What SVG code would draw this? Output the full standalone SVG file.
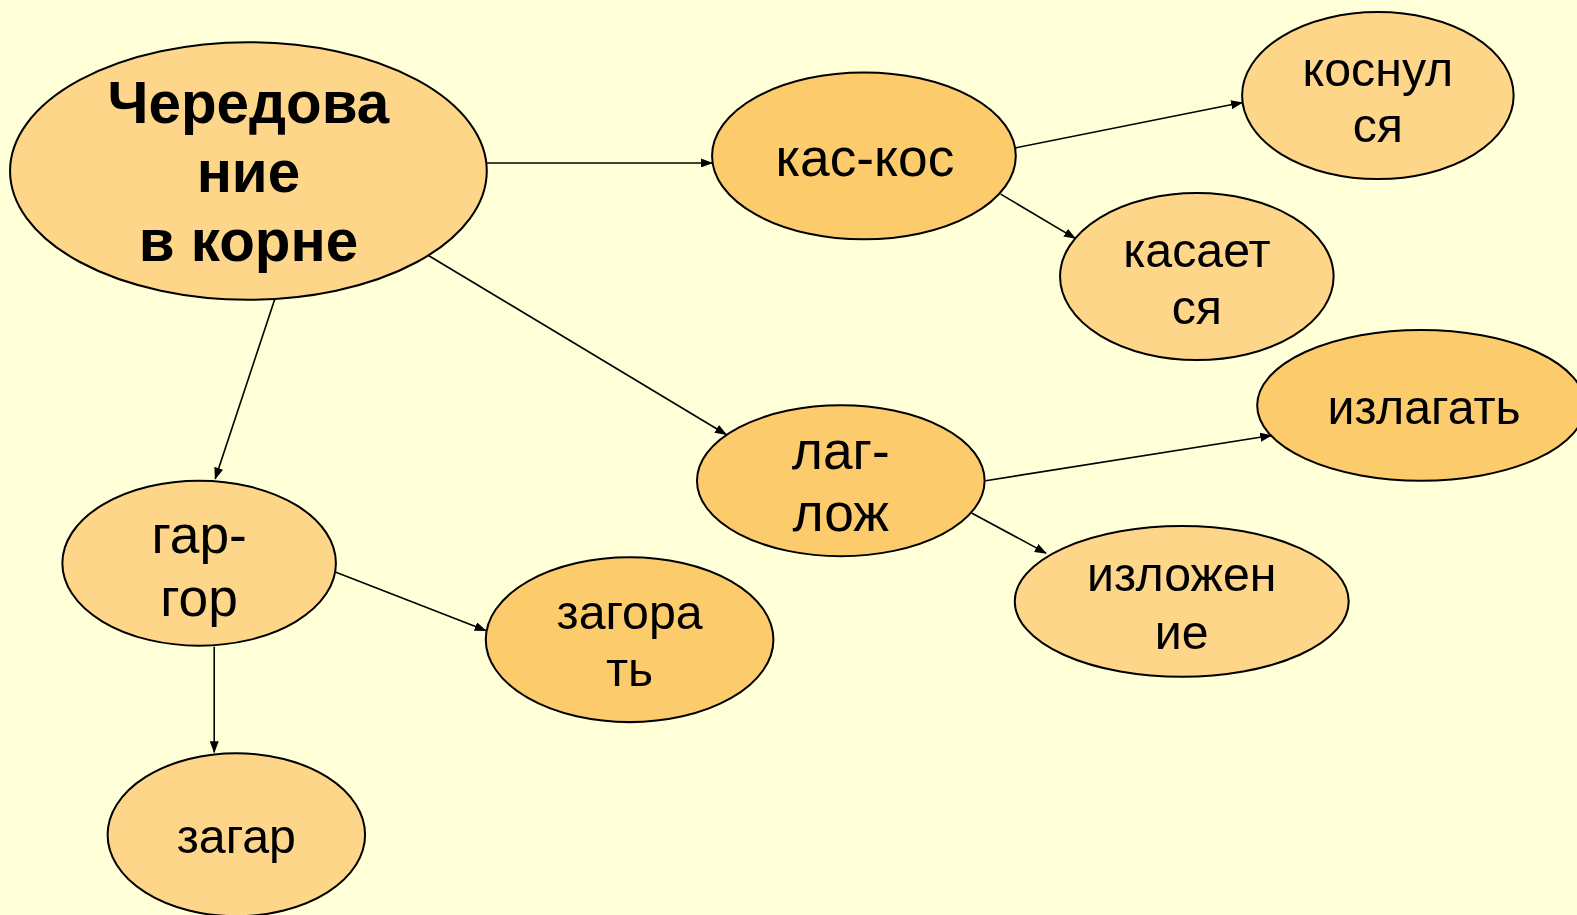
<svg xmlns="http://www.w3.org/2000/svg" width="1577" height="915" viewBox="0 0 1577 915">
<defs>
<style>
.n{stroke:#000;stroke-width:2}
.l{fill:#FDD68A}
.d{fill:#FCCB6C}
.t{font-family:"Liberation Sans",Arial,sans-serif;font-size:48px;fill:#000;text-anchor:middle}
.r{font-family:"Liberation Sans",Arial,sans-serif;font-size:53px;fill:#000;text-anchor:middle}
.b{font-family:"Liberation Sans",Arial,sans-serif;font-size:58px;font-weight:bold;fill:#000;text-anchor:middle}
.c{stroke:#000;stroke-width:1.6;fill:none;marker-end:url(#a)}
</style>
<marker id="a" markerWidth="12" markerHeight="9" refX="11" refY="4.5" orient="auto" markerUnits="userSpaceOnUse">
<path d="M0,0 L12,4.5 L0,9 Z" fill="#000"/>
</marker>
</defs>
<rect width="1577" height="915" fill="#FFFFD8"/>
<g transform="scale(1.00574)">
<g id="connectors">
<line class="c" x1="484" y1="162" x2="708" y2="162"/>
<line class="c" x1="1010" y1="147" x2="1235" y2="102"/>
<line class="c" x1="995" y1="193" x2="1069" y2="237"/>
<line class="c" x1="426" y1="254" x2="722" y2="432"/>
<line class="c" x1="273" y1="298" x2="214" y2="476"/>
<line class="c" x1="980" y1="478" x2="1264" y2="433"/>
<line class="c" x1="966" y1="510" x2="1040" y2="550"/>
<line class="c" x1="334" y1="569" x2="483" y2="627"/>
<line class="c" x1="213" y1="643" x2="213" y2="748"/>
</g>
<g id="main">
<ellipse class="n l" cx="247" cy="170" rx="237" ry="128"/>
<text class="b" x="247" y="122">Чередова</text>
<text class="b" x="247" y="191">ние</text>
<text class="b" x="247" y="260">в корне</text>
</g>
<g id="kaskos">
<ellipse class="n d" cx="859" cy="155" rx="151" ry="83"/>
<text class="r" x="860" y="175">кас-кос</text>
</g>
<g id="kosnulsya">
<ellipse class="n l" cx="1370" cy="95" rx="135" ry="83"/>
<text class="t" x="1370" y="86">коснул</text>
<text class="t" x="1370" y="141">ся</text>
</g>
<g id="kasaetsya">
<ellipse class="n l" cx="1190" cy="275" rx="136" ry="83"/>
<text class="t" x="1190" y="265">касает</text>
<text class="t" x="1190" y="322">ся</text>
</g>
<g id="izlagat">
<ellipse class="n d" cx="1413" cy="403" rx="163" ry="75"/>
<text class="t" x="1416" y="422">излагать</text>
</g>
<g id="laglozh">
<ellipse class="n d" cx="836" cy="478" rx="143" ry="75"/>
<text class="r" x="836" y="466">лаг-</text>
<text class="r" x="836" y="528">лож</text>
</g>
<g id="izlozhenie">
<ellipse class="n l" cx="1175" cy="598" rx="166" ry="75"/>
<text class="t" x="1175" y="588">изложен</text>
<text class="t" x="1175" y="645">ие</text>
</g>
<g id="gargor">
<ellipse class="n l" cx="198" cy="560" rx="136" ry="82"/>
<text class="r" x="198" y="550">гар-</text>
<text class="r" x="198" y="612">гор</text>
</g>
<g id="zagorat">
<ellipse class="n d" cx="626" cy="636" rx="143" ry="82"/>
<text class="t" x="626" y="625">загора</text>
<text class="t" x="626" y="682">ть</text>
</g>
<g id="zagar">
<ellipse class="n l" cx="235" cy="830" rx="128" ry="81"/>
<text class="t" x="235" y="848">загар</text>
</g>
</g>
</svg>
